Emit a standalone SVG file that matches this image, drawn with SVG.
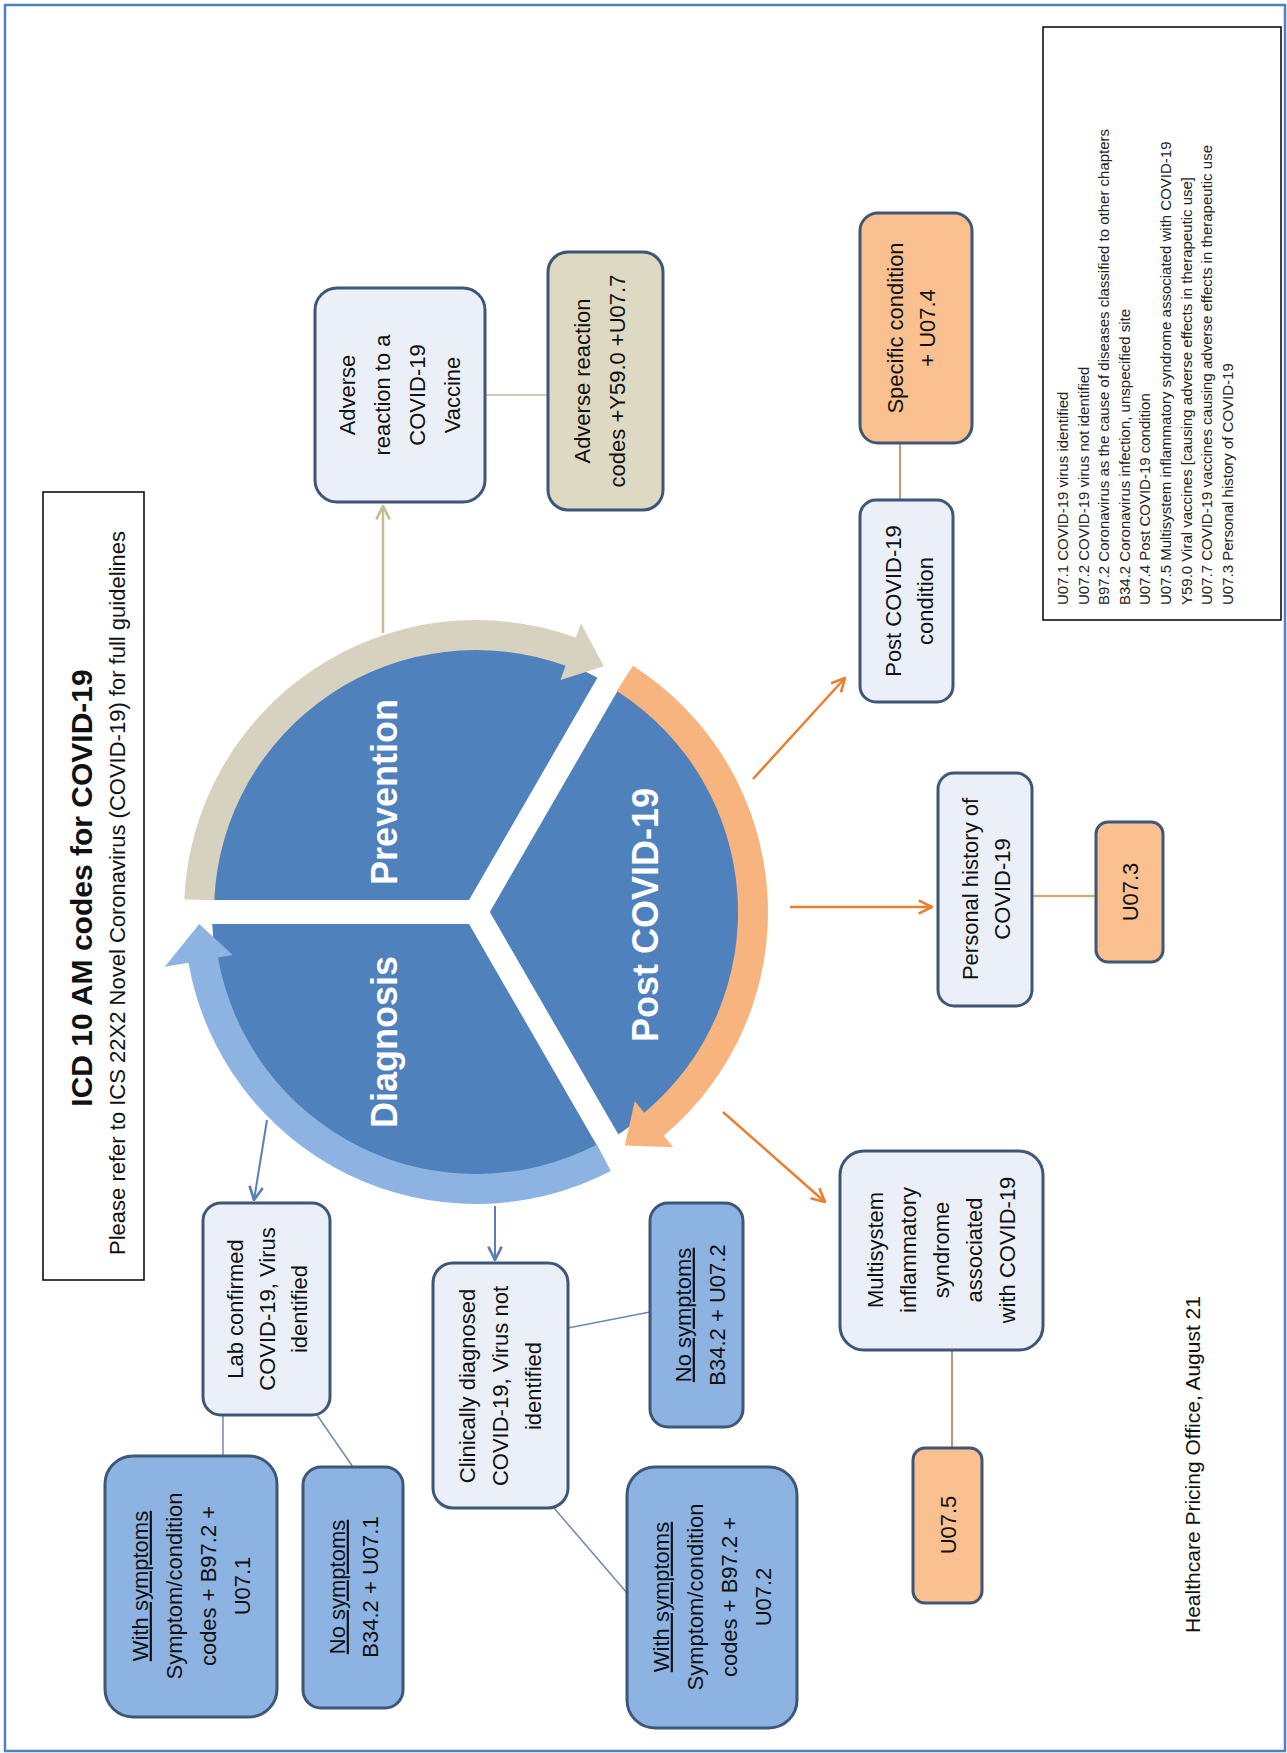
<svg xmlns="http://www.w3.org/2000/svg" width="1287" height="1753" viewBox="0 0 1287 1753">
<defs>
<style>
.t{font-family:'Liberation Sans',Arial,sans-serif;font-size:22px;fill:#111;text-anchor:middle}
.lg{font-family:'Liberation Sans',Arial,sans-serif;font-size:15px;fill:#222;text-anchor:start}
.pl{font-family:'Liberation Sans',Arial,sans-serif;font-size:36px;font-weight:bold;fill:#fff;text-anchor:middle}
.light{fill:#EBF0F8;stroke:#3F5777;stroke-width:3}
.blue{fill:#8DB3E2;stroke:#3F5777;stroke-width:3}
.orange{fill:#FAC090;stroke:#3F5777;stroke-width:3}
.tan{fill:#DDD9C3;stroke:#3F5777;stroke-width:3}
.u{text-decoration:underline}
</style>
<marker id="aTan" viewBox="0 0 12 12" refX="11" refY="6" markerWidth="16" markerHeight="16" orient="auto" markerUnits="userSpaceOnUse"><path d="M1,1 L11,6 L1,11" fill="none" stroke="#C4BD97" stroke-width="2"/></marker>
<marker id="aOr" viewBox="0 0 12 12" refX="11" refY="6" markerWidth="16" markerHeight="16" orient="auto" markerUnits="userSpaceOnUse"><path d="M1,1 L11,6 L1,11" fill="none" stroke="#E8802F" stroke-width="2"/></marker>
<marker id="aBl" viewBox="0 0 12 12" refX="11" refY="6" markerWidth="16" markerHeight="16" orient="auto" markerUnits="userSpaceOnUse"><path d="M1,1 L11,6 L1,11" fill="none" stroke="#5B7FB5" stroke-width="2"/></marker>
</defs>
<rect x="0" y="0" width="1287" height="1753" fill="#fff"/>
<rect x="5" y="5" width="1280" height="1746" fill="none" stroke="#4F81BD" stroke-width="2.5"/>

<g id="title">
<rect x="43" y="492" width="101" height="788" fill="#fff" stroke="#000" stroke-width="1.5"/>
<g transform="translate(81,888) rotate(-90)"><text class="t" style="font-size:30px;font-weight:bold" dy="0.35em">ICD 10 AM codes for COVID-19</text></g>
<g transform="translate(117,893) rotate(-90)"><text class="t" style="font-size:22px" dy="0.35em">Please refer to ICS 22X2 Novel Coronavirus (COVID-19) for full guidelines</text></g>
</g>

<g id="legend">
<rect x="1043" y="27" width="238" height="593" fill="#fff" stroke="#000" stroke-width="1.5"/>
<text class="lg" transform="translate(1063,605) rotate(-90)" dy="0.35em">U07.1 COVID-19 virus identified</text>
<text class="lg" transform="translate(1084,605) rotate(-90)" dy="0.35em">U07.2 COVID-19 virus not identified</text>
<text class="lg" transform="translate(1104,605) rotate(-90)" dy="0.35em">B97.2 Coronavirus as the cause of diseases classified to other chapters</text>
<text class="lg" transform="translate(1125,605) rotate(-90)" dy="0.35em">B34.2 Coronavirus infection, unspecified site</text>
<text class="lg" transform="translate(1145,605) rotate(-90)" dy="0.35em">U07.4 Post COVID-19 condition</text>
<text class="lg" transform="translate(1166,605) rotate(-90)" dy="0.35em">U07.5 Multisystem inflammatory syndrome associated with COVID-19</text>
<text class="lg" transform="translate(1187,605) rotate(-90)" dy="0.35em">Y59.0 Viral vaccines [causing adverse effects in therapeutic use]</text>
<text class="lg" transform="translate(1207,605) rotate(-90)" dy="0.35em">U07.7 COVID-19 vaccines causing adverse effects in therapeutic use</text>
<text class="lg" transform="translate(1228,605) rotate(-90)" dy="0.35em">U07.3 Personal history of COVID-19</text>
</g>

<g id="cycle">
<circle cx="476" cy="912" r="264" fill="#4F81BD"/>
<g stroke="#fff" stroke-width="24" stroke-linecap="butt">
<line x1="476" y1="912" x2="156" y2="912"/>
<line x1="476" y1="912" x2="636" y2="634.9"/>
<line x1="476" y1="912" x2="636" y2="1189.1"/>
</g>
<path d="M184.28,899.26 A292,292 0 0 1 575.87,637.61 L581.00,623.52 L603.90,666.30 L560.48,679.90 L565.61,665.80 A262,262 0 0 0 214.25,900.57 Z" fill="#D6D2BF"/>
<path d="M632.89,665.73 A292,292 0 0 1 663.69,1135.68 L673.34,1147.17 L624.83,1145.62 L634.77,1101.21 L644.41,1112.70 A262,262 0 0 0 616.77,691.03 Z" fill="#F7B47F"/>
<path d="M610.83,1171.01 A292,292 0 0 1 188.44,962.71 L164.80,966.87 L199.26,924.08 L232.75,954.89 L217.98,957.50 A262,262 0 0 0 596.98,1144.39 Z" fill="#8DB3E2"/>
<g transform="translate(384,792) rotate(-90)"><text class="pl" dy="0.35em">Prevention</text></g>
<g transform="translate(384,1042) rotate(-90)"><text class="pl" dy="0.35em">Diagnosis</text></g>
<g transform="translate(645,915) rotate(-90)"><text class="pl" dy="0.35em">Post COVID-19</text></g>
</g>

<g id="connectors" fill="none">
<line x1="383" y1="633" x2="383" y2="506" stroke="#C4BD97" stroke-width="2.5" marker-end="url(#aTan)"/>
<line x1="485" y1="395" x2="548" y2="395" stroke="#BDB9A0" stroke-width="1.5"/>
<line x1="900" y1="443" x2="900" y2="500" stroke="#C07040" stroke-width="1.5"/>
<line x1="753" y1="779" x2="845" y2="678" stroke="#E8802F" stroke-width="2.5" marker-end="url(#aOr)"/>
<line x1="790" y1="907" x2="932" y2="907" stroke="#E8802F" stroke-width="2.5" marker-end="url(#aOr)"/>
<line x1="1032" y1="896" x2="1096" y2="896" stroke="#E07B33" stroke-width="1.5"/>
<line x1="723" y1="1112" x2="825" y2="1202" stroke="#E8802F" stroke-width="2.5" marker-end="url(#aOr)"/>
<line x1="952" y1="1350" x2="952" y2="1448" stroke="#B0703F" stroke-width="1.5"/>
<line x1="267" y1="1120" x2="254" y2="1200" stroke="#5B7FB5" stroke-width="2" marker-end="url(#aBl)"/>
<line x1="495" y1="1206" x2="495" y2="1260" stroke="#5B7FB5" stroke-width="2" marker-end="url(#aBl)"/>
<line x1="223" y1="1415" x2="223" y2="1456" stroke="#7088B0" stroke-width="1.5"/>
<line x1="317" y1="1415" x2="353" y2="1467" stroke="#7088B0" stroke-width="1.5"/>
<line x1="568" y1="1328" x2="650" y2="1312" stroke="#7088B0" stroke-width="1.5"/>
<line x1="554" y1="1508" x2="627" y2="1593" stroke="#7088B0" stroke-width="1.5"/>
</g>

<g id="adverse">
<rect x="315" y="288" width="170" height="214" rx="22" class="light"/>
<g transform="translate(400,395) rotate(-90)">
<text class="t" y="-52.5" dy="0.35em">Adverse</text>
<text class="t" y="-17.5" dy="0.35em">reaction to a</text>
<text class="t" y="17.5" dy="0.35em">COVID-19</text>
<text class="t" y="52.5" dy="0.35em">Vaccine</text>
</g>
</g>

<g id="adverse-codes">
<rect x="548" y="252" width="115" height="258" rx="20" class="tan"/>
<g transform="translate(600,381) rotate(-90)">
<text class="t" y="-18" dy="0.35em">Adverse reaction</text>
<text class="t" y="17" dy="0.35em">codes +Y59.0 +U07.7</text>
</g>
</g>

<g id="specific">
<rect x="860" y="213" width="112" height="230" rx="18" class="orange"/>
<g transform="translate(911,328) rotate(-90)">
<text class="t" y="-16" dy="0.35em">Specific condition</text>
<text class="t" y="16" dy="0.35em">+ U07.4</text>
</g>
</g>

<g id="post-condition">
<rect x="860" y="500" width="93" height="202" rx="16" class="light"/>
<g transform="translate(909,601) rotate(-90)">
<text class="t" y="-16" dy="0.35em">Post COVID-19</text>
<text class="t" y="16" dy="0.35em">condition</text>
</g>
</g>

<g id="personal-history">
<rect x="938" y="773" width="94" height="233" rx="16" class="light"/>
<g transform="translate(986,889) rotate(-90)">
<text class="t" y="-16" dy="0.35em">Personal history of</text>
<text class="t" y="16" dy="0.35em">COVID-19</text>
</g>
</g>

<g id="u073">
<rect x="1096" y="822" width="67" height="140" rx="12" class="orange"/>
<text class="t" transform="translate(1130,892) rotate(-90)" dy="0.35em">U07.3</text>
</g>

<g id="multisystem">
<rect x="840" y="1151" width="203" height="199" rx="24" class="light"/>
<g transform="translate(941.5,1250) rotate(-90)">
<text class="t" y="-66" dy="0.35em">Multisystem</text>
<text class="t" y="-33" dy="0.35em">inflammatory</text>
<text class="t" y="0" dy="0.35em">syndrome</text>
<text class="t" y="33" dy="0.35em">associated</text>
<text class="t" y="66" dy="0.35em">with COVID-19</text>
</g>
</g>

<g id="u075">
<rect x="913" y="1448" width="69" height="155" rx="12" class="orange"/>
<text class="t" transform="translate(948,1525) rotate(-90)" dy="0.35em">U07.5</text>
</g>

<g id="lab-confirmed">
<rect x="203" y="1203" width="127" height="212" rx="18" class="light"/>
<g transform="translate(267,1309) rotate(-90)">
<text class="t" y="-32" dy="0.35em">Lab confirmed</text>
<text class="t" y="0" dy="0.35em">COVID-19, Virus</text>
<text class="t" y="32" dy="0.35em">identified</text>
</g>
</g>

<g id="with-symptoms-1">
<rect x="105" y="1456" width="172" height="261" rx="28" class="blue"/>
<g transform="translate(191,1586) rotate(-90)">
<text class="t u" y="-51" dy="0.35em">With symptoms</text>
<text class="t" y="-17" dy="0.35em">Symptom/condition</text>
<text class="t" y="17" dy="0.35em">codes + B97.2 +</text>
<text class="t" y="51" dy="0.35em">U07.1</text>
</g>
</g>

<g id="no-symptoms-1">
<rect x="303" y="1467" width="100" height="241" rx="18" class="blue"/>
<g transform="translate(353,1587) rotate(-90)">
<text class="t u" y="-16" dy="0.35em">No symptoms</text>
<text class="t" y="17" dy="0.35em">B34.2 + U07.1</text>
</g>
</g>

<g id="clinically-diagnosed">
<rect x="433" y="1263" width="135" height="245" rx="20" class="light"/>
<g transform="translate(500,1386) rotate(-90)">
<text class="t" y="-33" dy="0.35em">Clinically diagnosed</text>
<text class="t" y="0" dy="0.35em">COVID-19, Virus not</text>
<text class="t" y="33" dy="0.35em">identified</text>
</g>
</g>

<g id="no-symptoms-2">
<rect x="650" y="1203" width="93" height="224" rx="18" class="blue"/>
<g transform="translate(700,1315) rotate(-90)">
<text class="t u" y="-17" dy="0.35em">No symptoms</text>
<text class="t" y="17" dy="0.35em">B34.2 + U07.2</text>
</g>
</g>

<g id="with-symptoms-2">
<rect x="627" y="1467" width="170" height="261" rx="28" class="blue"/>
<g transform="translate(712,1597) rotate(-90)">
<text class="t u" y="-51" dy="0.35em">With symptoms</text>
<text class="t" y="-17" dy="0.35em">Symptom/condition</text>
<text class="t" y="17" dy="0.35em">codes + B97.2 +</text>
<text class="t" y="51" dy="0.35em">U07.2</text>
</g>
</g>

<text class="t" style="font-size:21px;text-anchor:start" transform="translate(1193,1633) rotate(-90)" dy="0.35em">Healthcare Pricing Office, August 21</text>
</svg>
